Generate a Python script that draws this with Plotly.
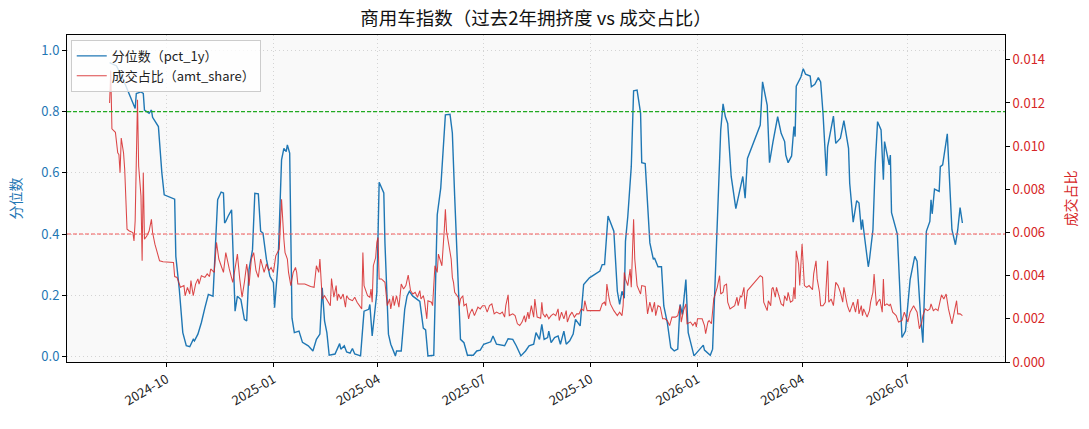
import pandas as pd
import plotly.graph_objects as go

start_date = "2024-08-13"

pct_days = [0, 6, 12, 17, 22, 23, 27, 29, 30, 34, 36, 37, 40, 42, 45, 47, 56, 57, 60, 63,
            66, 69, 72, 73, 76, 79, 82, 85, 89, 90, 93, 96, 98, 99, 100, 102, 105, 108, 110, 113,
            116, 118, 120, 123, 125, 128, 130, 132, 135, 138, 141, 142, 145, 148, 150, 152, 153, 155, 157, 159,
            163, 166, 171, 175, 178, 181, 183, 185, 187, 189, 194, 198, 199, 202, 204, 207, 209, 211, 216, 218,
            219, 223, 224, 226, 228, 230, 232, 236, 237, 240, 242, 246, 247, 251, 254, 256, 258, 261, 267, 270,
            272, 274, 279, 282, 285, 289, 293, 295, 297, 302, 305, 308, 313, 316, 319, 322, 328, 330, 333, 340,
            343, 347, 350, 354, 358, 361, 365, 367, 370, 372, 374, 377, 378, 380, 383, 386, 388, 391, 393, 396,
            399, 401, 405, 408, 413, 422, 424, 426, 429, 431, 434, 437, 439, 441, 443, 444, 446, 449, 451, 454,
            457, 458, 461, 465, 468, 469, 472, 475, 477, 480, 483, 486, 489, 491, 493, 496, 498, 503, 506, 511,
            512, 517, 519, 523, 526, 528, 530, 532, 535, 539, 542, 545, 547, 549, 560, 562, 566, 568, 571, 573,
            575, 578, 581, 582, 584, 587, 589, 590, 591, 595, 597, 599, 603, 604, 607, 610, 612, 614, 617, 618,
            623, 625, 629, 632, 636, 637, 640, 643, 645, 647, 648, 649, 653, 654, 657, 659, 661, 664, 666, 667,
            669, 671, 672, 673, 678, 682, 685, 689, 693, 695, 698, 700, 703, 706, 707, 708, 710, 714, 715, 717,
            721, 725, 728, 730, 732, 734]
pct_vals = [0.960, 0.949, 0.902, 0.859, 0.810, 0.859, 0.864, 0.859, 0.805, 0.794, 0.805, 0.781, 0.761, 0.751, 0.599, 0.528, 0.514, 0.327, 0.219, 0.078,
            0.035, 0.032, 0.056, 0.051, 0.073, 0.111, 0.159, 0.203, 0.197, 0.284, 0.512, 0.537, 0.534, 0.436, 0.441, 0.458, 0.479, 0.148, 0.197, 0.186,
            0.121, 0.116, 0.284, 0.349, 0.533, 0.531, 0.409, 0.403, 0.317, 0.262, 0.241, 0.159, 0.306, 0.642, 0.680, 0.669, 0.691, 0.664, 0.125, 0.078,
            0.083, 0.046, 0.035, 0.018, 0.056, 0.073, 0.224, 0.116, 0.078, 0.004, 0.008, 0.042, 0.024, 0.035, 0.015, 0.011, 0.026, 0.008, 0.002, 0.100,
            0.148, 0.154, 0.170, 0.067, 0.132, 0.208, 0.569, 0.534, 0.370, 0.073, 0.040, 0.002, 0.018, 0.018, 0.154, 0.197, 0.213, 0.197, 0.180, 0.093,
            0.087, 0.002, 0.004, 0.463, 0.550, 0.789, 0.791, 0.730, 0.523, 0.056, 0.045, 0.004, 0.004, 0.018, 0.021, 0.040, 0.048, 0.067, 0.040, 0.035,
            0.058, 0.056, 0.035, 0.002, 0.018, 0.035, 0.040, 0.078, 0.056, 0.105, 0.056, 0.062, 0.083, 0.045, 0.062, 0.067, 0.040, 0.083, 0.040, 0.051,
            0.073, 0.121, 0.100, 0.235, 0.257, 0.279, 0.300, 0.300, 0.459, 0.441, 0.409, 0.213, 0.170, 0.213, 0.190, 0.376, 0.457, 0.620, 0.868, 0.870,
            0.795, 0.633, 0.630, 0.371, 0.317, 0.322, 0.293, 0.293, 0.165, 0.111, 0.029, 0.018, 0.024, 0.170, 0.137, 0.251, 0.078, 0.002, 0.015, 0.037,
            0.021, 0.004, 0.024, 0.446, 0.740, 0.825, 0.783, 0.761, 0.588, 0.483, 0.533, 0.588, 0.517, 0.647, 0.756, 0.897, 0.820, 0.633, 0.702, 0.745,
            0.783, 0.729, 0.702, 0.658, 0.633, 0.655, 0.751, 0.718, 0.883, 0.913, 0.940, 0.922, 0.916, 0.881, 0.889, 0.911, 0.897, 0.796, 0.590, 0.685,
            0.785, 0.696, 0.713, 0.770, 0.680, 0.566, 0.439, 0.509, 0.501, 0.414, 0.447, 0.414, 0.293, 0.316, 0.414, 0.631, 0.767, 0.740, 0.577, 0.702,
            0.658, 0.626, 0.658, 0.470, 0.400, 0.062, 0.083, 0.251, 0.327, 0.311, 0.132, 0.045, 0.409, 0.441, 0.512, 0.466, 0.547, 0.539, 0.620, 0.626,
            0.727, 0.414, 0.365, 0.414, 0.486, 0.436]

share_days = [0, 1, 2, 5, 7, 8, 9, 10, 12, 13, 14, 15, 17, 20, 21, 22, 24, 25, 27, 28,
              29, 30, 32, 34, 36, 37, 39, 41, 43, 46, 55, 56, 58, 61, 64, 65, 67, 69, 70, 72,
              74, 76, 77, 79, 82, 84, 86, 87, 90, 92, 94, 96, 98, 100, 101, 103, 106, 108, 110, 112,
              114, 116, 118, 119, 120, 122, 124, 126, 128, 130, 133, 135, 137, 139, 141, 143, 145, 146, 147, 148,
              150, 151, 153, 154, 156, 158, 160, 161, 162, 168, 173, 176, 178, 180, 181, 183, 185, 188, 190, 191,
              193, 195, 196, 197, 199, 201, 203, 204, 206, 209, 211, 213, 216, 217, 218, 219, 222, 224, 225, 226,
              227, 229, 230, 231, 232, 234, 237, 238, 239, 241, 242, 244, 245, 247, 249, 251, 253, 255, 257, 259,
              261, 263, 265, 267, 268, 270, 271, 273, 274, 277, 278, 280, 282, 283, 285, 286, 288, 289, 290, 292,
              294, 295, 296, 297, 300, 301, 302, 304, 305, 307, 309, 310, 312, 314, 317, 319, 321, 323, 325, 327,
              329, 331, 333, 336, 338, 340, 341, 343, 344, 347, 349, 351, 353, 355, 357, 358, 360, 361, 363, 365,
              366, 368, 371, 372, 373, 375, 376, 378, 380, 382, 384, 386, 387, 389, 391, 393, 394, 396, 398, 400,
              402, 404, 406, 408, 409, 411, 414, 422, 424, 426, 427, 428, 430, 431, 434, 437, 439, 441, 442, 443,
              444, 446, 448, 449, 451, 452, 454, 457, 458, 461, 463, 465, 467, 469, 470, 472, 474, 476, 478, 480,
              482, 484, 487, 489, 491, 492, 494, 496, 497, 500, 502, 504, 505, 506, 510, 512, 513, 515, 516, 518,
              520, 522, 523, 525, 526, 528, 529, 531, 532, 534, 536, 538, 540, 541, 543, 544, 546, 547, 549, 560,
              562, 563, 566, 567, 569, 570, 571, 573, 574, 576, 578, 580, 581, 583, 584, 586, 588, 589, 590, 591,
              593, 594, 596, 598, 600, 602, 605, 606, 608, 609, 611, 612, 614, 616, 618, 619, 621, 623, 625, 627,
              629, 631, 632, 635, 637, 639, 640, 642, 644, 645, 647, 648, 649, 652, 654, 655, 657, 658, 660, 661,
              663, 665, 666, 667, 669, 671, 672, 674, 677, 679, 682, 684, 686, 687, 689, 691, 692, 695, 697, 699,
              700, 702, 704, 706, 707, 709, 711, 713, 715, 716, 718, 720, 722, 725, 727, 729, 730, 732, 734]
share_vals = [0.0120, 0.0135, 0.0108, 0.01064, 0.00969, 0.00961, 0.00877, 0.01038, 0.00969, 0.00892, 0.00754, 0.00615, 0.00607, 0.00600, 0.00561, 0.00654, 0.01215, 0.00908, 0.00769, 0.00469,
              0.00877, 0.00569, 0.00584, 0.00607, 0.00661, 0.00600, 0.00546, 0.00507, 0.00469, 0.00464, 0.00461, 0.00396, 0.00392, 0.00346, 0.00354, 0.00307, 0.00346, 0.00315, 0.00377, 0.00307,
              0.00361, 0.00385, 0.00361, 0.00400, 0.00392, 0.00408, 0.00396, 0.00431, 0.00415, 0.00554, 0.00477, 0.00446, 0.00415, 0.00507, 0.00477, 0.00431, 0.00369, 0.00431, 0.00500, 0.00385,
              0.00300, 0.00369, 0.00454, 0.00415, 0.00354, 0.00477, 0.00507, 0.00423, 0.00392, 0.00477, 0.00415, 0.00454, 0.00423, 0.00438, 0.00415, 0.00492, 0.00515, 0.00523, 0.00631, 0.00754,
              0.00569, 0.00507, 0.00477, 0.00415, 0.00354, 0.00415, 0.00438, 0.00415, 0.00361, 0.00361, 0.00350, 0.00346, 0.00446, 0.00415, 0.00477, 0.00292, 0.00307, 0.00277, 0.00261, 0.00387,
              0.00300, 0.00354, 0.00284, 0.00315, 0.00292, 0.00315, 0.00254, 0.00307, 0.00292, 0.00284, 0.00300, 0.00277, 0.00249, 0.00246, 0.00507, 0.00354, 0.00307, 0.00300, 0.00338, 0.00277,
              0.00446, 0.00484, 0.00554, 0.00577, 0.00385, 0.00385, 0.00369, 0.00292, 0.00261, 0.00292, 0.00246, 0.00307, 0.00261, 0.00307, 0.00254, 0.00361, 0.00338, 0.00354, 0.00403, 0.00331,
              0.00315, 0.00323, 0.00300, 0.00331, 0.00292, 0.00307, 0.00284, 0.00200, 0.00284, 0.00277, 0.00261, 0.00446, 0.00415, 0.00500, 0.00469, 0.00446, 0.00607, 0.00708, 0.00607, 0.00538,
              0.00477, 0.00392, 0.00369, 0.00323, 0.00300, 0.00261, 0.00292, 0.00307, 0.00261, 0.00269, 0.00200, 0.00223, 0.00246, 0.00215, 0.00254, 0.00246, 0.00261, 0.00261, 0.00231, 0.00261,
              0.00269, 0.00223, 0.00231, 0.00223, 0.00231, 0.00208, 0.00261, 0.00311, 0.00215, 0.00223, 0.00215, 0.00177, 0.00169, 0.00185, 0.00215, 0.00185, 0.00231, 0.00200, 0.00261, 0.00208,
              0.00292, 0.00208, 0.00203, 0.00277, 0.00223, 0.00208, 0.00223, 0.00200, 0.00215, 0.00223, 0.00215, 0.00246, 0.00192, 0.00231, 0.00200, 0.00238, 0.00185, 0.00215, 0.00231, 0.00208,
              0.00223, 0.00223, 0.00246, 0.00238, 0.00284, 0.00238, 0.00238, 0.00238, 0.00269, 0.00277, 0.00261, 0.00361, 0.00292, 0.00269, 0.00238, 0.00215, 0.00231, 0.00215, 0.00261, 0.00415,
              0.00385, 0.00354, 0.00431, 0.00346, 0.00661, 0.00477, 0.00354, 0.00315, 0.00354, 0.00350, 0.00223, 0.00277, 0.00231, 0.00277, 0.00215, 0.00261, 0.00254, 0.00200, 0.00200, 0.00192,
              0.00169, 0.00208, 0.00208, 0.00215, 0.00261, 0.00185, 0.00238, 0.00269, 0.00177, 0.00185, 0.00169, 0.00185, 0.00162, 0.00200, 0.00200, 0.00169, 0.00131, 0.00185, 0.00192, 0.00177,
              0.00292, 0.00323, 0.00346, 0.00400, 0.00315, 0.00323, 0.00354, 0.00361, 0.00277, 0.00246, 0.00254, 0.00261, 0.00300, 0.00261, 0.00307, 0.00300, 0.00346, 0.00246, 0.00331, 0.00400,
              0.00392, 0.00277, 0.00238, 0.00284, 0.00261, 0.00338, 0.00346, 0.00300, 0.00346, 0.00307, 0.00269, 0.00261, 0.00307, 0.00284, 0.00323, 0.00277, 0.00284, 0.00346, 0.00292, 0.00515,
              0.00454, 0.00354, 0.00546, 0.00354, 0.00346, 0.00354, 0.00335, 0.00408, 0.00469, 0.00385, 0.00323, 0.00261, 0.00261, 0.00277, 0.00469, 0.00277, 0.00292, 0.00261, 0.00369, 0.00354,
              0.00323, 0.00277, 0.00346, 0.00261, 0.00231, 0.00261, 0.00277, 0.00231, 0.00292, 0.00223, 0.00261, 0.00215, 0.00246, 0.00208, 0.00238, 0.00277, 0.00323, 0.00408, 0.00261, 0.00277,
              0.00292, 0.00231, 0.00385, 0.00261, 0.00269, 0.00261, 0.00269, 0.00231, 0.00215, 0.00185, 0.00192, 0.00231, 0.00200, 0.00185, 0.00231, 0.00254, 0.00261, 0.00231, 0.00154, 0.00185,
              0.00215, 0.00246, 0.00238, 0.00246, 0.00269, 0.00238, 0.00246, 0.00238, 0.00300, 0.00311, 0.00292, 0.00315, 0.00246, 0.00177, 0.00231, 0.00284, 0.00223, 0.00223, 0.00215]

tick_dates = ["2024-10-01", "2025-01-01", "2025-04-01", "2025-07-01", "2025-10-01",
              "2026-01-01", "2026-04-01", "2026-07-01"]
tick_labels = ["2024-10", "2025-01", "2025-04", "2025-07", "2025-10",
               "2026-01", "2026-04", "2026-07"]

high_level = 0.8
low_level = 0.4

t0 = pd.Timestamp(start_date)
pct_dates = t0 + pd.to_timedelta(pct_days, unit="D")
share_dates = t0 + pd.to_timedelta(share_days, unit="D")

BLUE = "#1f77b4"
RED = "#d62728"
FONT = "Noto Sans CJK SC, DejaVu Sans, sans-serif"
GRID = "#d4d4d4"

fig = go.Figure()
fig.add_trace(go.Scatter(x=pct_dates, y=pct_vals, mode="lines", name="分位数（pct_1y）",
                         line=dict(color=BLUE, width=1.4)))
fig.add_trace(go.Scatter(x=share_dates, y=share_vals, mode="lines", name="成交占比（amt_share）",
                         line=dict(color="rgba(214,39,40,0.85)", width=1.05), yaxis="y2"))

# threshold lines on the percentile axis
fig.add_shape(type="line", xref="paper", x0=0, x1=1, yref="y", y0=high_level, y1=high_level,
              line=dict(color="rgb(34,170,34)", width=1.2, dash="4px,2px"), layer="above")
fig.add_shape(type="line", xref="paper", x0=0, x1=1, yref="y", y0=low_level, y1=low_level,
              line=dict(color="rgb(242,90,90)", width=1.1, dash="4px,2px"), layer="above")

fig.update_layout(
    width=1089, height=429,
    margin=dict(l=67, r=84, t=35, b=67, autoexpand=False),
    paper_bgcolor="white",
    plot_bgcolor="#f9f9f9",
    font=dict(family=FONT, size=13, color="#222"),
    title=dict(text="商用车指数（过去2年拥挤度 vs 成交占比）", x=0.5, xref="paper",
               y=1 - 19 / 429, yref="container", yanchor="middle",
               font=dict(size=18.5, color="#111")),
    showlegend=True,
    legend=dict(x=0.004, y=0.985, xanchor="left", yanchor="top",
                bgcolor="rgba(255,255,255,0.8)", bordercolor="#cccccc", borderwidth=1,
                font=dict(size=13), tracegroupgap=0, itemwidth=30),
    xaxis=dict(
        type="date", automargin=False,
        range=["2024-07-07 08:00", "2026-09-22 16:00"],
        tickmode="array", tickvals=tick_dates, ticktext=tick_labels,
        tickangle=-30,
        showgrid=True, gridcolor=GRID, griddash="1px,3px", gridwidth=1,
        showline=True, linecolor="black", linewidth=1, mirror=True,
        ticks="outside", ticklen=4, tickcolor="black",
        zeroline=False,
    ),
    yaxis=dict(
        automargin=False,
        range=[-0.018, 1.05],
        tickmode="linear", tick0=0, dtick=0.2, tickformat=".1f",
        tickfont=dict(color=BLUE),
        title=dict(text="分位数", font=dict(color=BLUE, size=14), standoff=16),
        showgrid=True, gridcolor=GRID, griddash="1px,3px", gridwidth=1,
        showline=True, linecolor="black", linewidth=1,
        ticks="outside", ticklen=4, tickcolor="black",
        zeroline=False,
    ),
    yaxis2=dict(
        automargin=False,
        overlaying="y", side="right",
        range=[0, 0.01515],
        tickmode="linear", tick0=0, dtick=0.002, tickformat=".3f",
        tickfont=dict(color=RED),
        title=dict(text="成交占比", font=dict(color=RED, size=14), standoff=22),
        showgrid=False,
        showline=True, linecolor="black", linewidth=1,
        ticks="outside", ticklen=4, tickcolor="black",
        zeroline=False,
    ),
)

# drop the browser's default page margin so the figure sits at the window corner
fig.write_html("out.html", config={"displayModeBar": False},
               post_script="document.body.style.margin = '0';")
